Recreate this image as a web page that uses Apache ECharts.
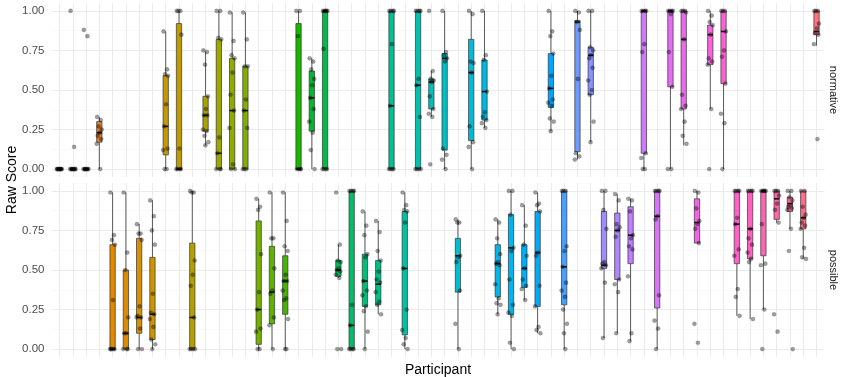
<!DOCTYPE html>
<html>
<head>
<meta charset="utf-8">
<script src="https://cdn.jsdelivr.net/npm/echarts@6/dist/echarts.min.js"></script>
<style>
  html, body { margin: 0; padding: 0; background: #fff; }
  #chart { width: 841px; height: 377px; }
</style>
</head>
<body>
<div id="chart"></div>
<script>
// participants (x axis, no tick labels shown)
const participants = [
  'P01','P02','P03','P04','P05','P06','P07','P08','P09','P10',
  'P11','P12','P13','P14','P15','P16','P17','P18','P19','P20',
  'P21','P22','P23','P24','P25','P26','P27','P28','P29','P30',
  'P31','P32','P33','P34','P35','P36','P37','P38','P39','P40',
  'P41','P42','P43','P44','P45','P46','P47','P48','P49','P50',
  'P51','P52','P53','P54','P55','P56','P57','P58'
];
const yTicks = [0, 0.25, 0.5, 0.75, 1];
const yMinor = [0.125, 0.375, 0.625, 0.875];

// normative facet: participant index, [lower whisker, q1, median, q3, upper whisker], raw scores
const normIdx = [0, 1, 2, 3, 8, 9, 11, 12, 13, 14, 18, 19, 20, 25, 27, 28, 29, 31, 32, 37, 39, 40, 44, 46, 47, 49, 50, 57];
const normStats = [
  [0, 0, 0, 0, 0], [0, 0, 0, 0, 0], [0, 0, 0, 0, 0],
  [0, 0.17, 0.23, 0.30, 0.33],
  [0, 0.09, 0.27, 0.59, 0.87], [0, 0, 0, 0.92, 1],
  [0.15, 0.24, 0.34, 0.46, 0.74], [0, 0, 0.10, 0.82, 1],
  [0, 0, 0.37, 0.70, 0.99], [0, 0, 0.37, 0.65, 0.99],
  [0, 0, 0, 0.92, 1], [0, 0.24, 0.45, 0.62, 0.70], [0, 0, 1, 1, 1],
  [0, 0, 0.40, 1, 1], [0, 0, 0.53, 1, 1],
  [0.33, 0.38, 0.55, 0.57, 0.62], [0, 0.12, 0.70, 0.73, 1],
  [0, 0.18, 0.61, 0.82, 1], [0.26, 0.31, 0.49, 0.69, 1],
  [0.24, 0.39, 0.51, 0.73, 1], [0.06, 0.11, 0.93, 0.94, 1],
  [0.17, 0.47, 0.72, 0.77, 1], [0, 0.10, 1, 1, 1],
  [0, 0.52, 1, 1, 1], [0.15, 0.38, 0.82, 1, 1],
  [0.38, 0.66, 0.85, 0.91, 1], [0, 0.54, 0.87, 1, 1],
  [0.78, 0.85, 0.87, 1, 1]
];
const normPoints = [
  [0, 0, 0, 0, 0, 0, 0, 0, 0, 0],
  [1, 0.14, 0, 0, 0, 0, 0, 0, 0, 0, 0],
  [0.88, 0.84, 0, 0, 0, 0, 0, 0, 0, 0],
  [0.33, 0.31, 0.27, 0.25, 0.23, 0.21, 0.19, 0.16, 0],
  [0.87, 0.63, 0.60, 0.59, 0.41, 0.27, 0.13, 0.12, 0, 0],
  [1, 1, 1, 0.85, 0.13, 0, 0, 0, 0],
  [0.75, 0.74, 0.66, 0.46, 0.38, 0.34, 0.34, 0.25, 0.24, 0.21, 0.17, 0.15],
  [1, 1, 0.83, 0.82, 0.20, 0.10, 0, 0, 0],
  [0.99, 0.81, 0.72, 0.70, 0.61, 0.47, 0.37, 0.26, 0.03, 0, 0],
  [0.99, 0.82, 0.65, 0.65, 0.44, 0.37, 0.26, 0, 0, 0],
  [1, 1, 0.84, 0, 0, 0, 0],
  [0.70, 0.68, 0.63, 0.57, 0.53, 0.45, 0.38, 0.30, 0.23, 0.12, 0],
  [1, 1, 1, 1, 1, 0.76, 0, 0, 0, 0],
  [1, 1, 1, 1, 0.79, 0.40, 0, 0, 0, 0],
  [1, 1, 1, 1, 0.57, 0.53, 0.33, 0, 0, 0, 0],
  [1, 0.62, 0.57, 0.56, 0.55, 0.46, 0.38, 0.35, 0.33, 0.03],
  [1, 0.74, 0.72, 0.70, 0.68, 0.13, 0.09, 0.06, 0],
  [1, 0.98, 0.68, 0.67, 0.61, 0.27, 0.17, 0.14, 0],
  [1, 0.72, 0.69, 0.49, 0.36, 0.33, 0.31, 0.29, 0.26],
  [1, 0.87, 0.84, 0.73, 0.59, 0.51, 0.44, 0.42, 0.40, 0.32, 0.30, 0.24],
  [1, 0.99, 0.93, 0.88, 0.57, 0.10, 0.08, 0.06],
  [1, 1, 0.77, 0.75, 0.72, 0.70, 0.64, 0.56, 0.50, 0.47, 0.30, 0.17],
  [1, 1, 1, 1, 0.79, 0.74, 0.10, 0.07, 0, 0],
  [1, 1, 1, 1, 0.98, 0.74, 0.52, 0, 0],
  [1, 1, 1, 0.99, 0.82, 0.47, 0.40, 0.38, 0.30, 0.21, 0.16],
  [1, 0.97, 0.93, 0.91, 0.85, 0.70, 0.68, 0.66, 0.38, 0],
  [1, 1, 1, 0.87, 0.75, 0.71, 0.54, 0.35, 0.29, 0],
  [1, 1, 1, 0.92, 0.89, 0.86, 0.85, 0.79, 0.19]
];

// possible facet
const possIdx = [4, 5, 6, 7, 10, 15, 16, 17, 21, 22, 23, 24, 26, 30, 33, 34, 35, 36, 38, 41, 42, 43, 45, 48, 51, 52, 53, 54, 55, 56];
const possStats = [
  [0, 0, 0, 0.66, 0.99], [0, 0, 0.10, 0.50, 0.99],
  [0, 0.10, 0.20, 0.70, 0.79], [0, 0.06, 0.22, 0.58, 0.94],
  [0, 0, 0.20, 0.67, 1],
  [0, 0.03, 0.25, 0.81, 0.95], [0, 0.16, 0.36, 0.65, 0.99],
  [0, 0.22, 0.43, 0.59, 0.99],
  [0.45, 0.46, 0.50, 0.56, 0.66], [0, 0, 0.15, 1, 1],
  [0, 0.27, 0.43, 0.60, 0.87], [0.22, 0.28, 0.41, 0.56, 0.81],
  [0, 0.09, 0.51, 0.87, 0.99],
  [0, 0.36, 0.59, 0.70, 0.82],
  [0.22, 0.33, 0.54, 0.66, 0.82], [0, 0.22, 0.64, 0.85, 1],
  [0.31, 0.39, 0.51, 0.66, 0.91], [0.10, 0.27, 0.61, 0.87, 0.99],
  [0, 0.28, 0.52, 1, 1],
  [0.07, 0.51, 0.53, 0.87, 1], [0.10, 0.44, 0.75, 0.86, 0.98],
  [0.05, 0.54, 0.72, 0.90, 0.95],
  [0, 0.26, 0.84, 1, 1],
  [0.67, 0.67, 0.80, 0.95, 1],
  [0.21, 0.54, 0.79, 1, 1], [0.19, 0.57, 0.76, 1, 1],
  [0.25, 0.59, 1, 1, 1], [0.80, 0.82, 0.95, 1, 1],
  [0.76, 0.87, 0.92, 0.96, 1], [0.57, 0.76, 0.83, 1, 1]
];
const possPoints = [
  [0.99, 0.72, 0.69, 0.66, 0.31, 0, 0, 0, 0, 0],
  [0.99, 0.61, 0.50, 0.20, 0.10, 0.10, 0, 0, 0],
  [0.79, 0.73, 0.73, 0.69, 0.27, 0.21, 0.20, 0.20, 0.13, 0, 0],
  [0.94, 0.84, 0.75, 0.66, 0.35, 0.23, 0.22, 0.19, 0.14, 0.06, 0.03, 0],
  [1, 0.99, 0.99, 0.56, 0.47, 0.40, 0.20, 0, 0, 0, 0],
  [0.95, 0.90, 0.88, 0.60, 0.36, 0.25, 0.13, 0.11, 0, 0],
  [0.99, 0.70, 0.70, 0.51, 0.37, 0.35, 0.20, 0.15, 0],
  [0.99, 0.81, 0.65, 0.62, 0.47, 0.43, 0.43, 0.37, 0.32, 0.31, 0.19, 0, 0],
  [0.99, 0.66, 0.56, 0.55, 0.51, 0.50, 0.49, 0.47, 0.45, 0, 0],
  [1, 1, 1, 1, 0.28, 0.15, 0, 0, 0, 0],
  [0.87, 0.78, 0.72, 0.60, 0.58, 0.43, 0.37, 0.34, 0.27, 0.24, 0.11, 0],
  [0.81, 0.74, 0.62, 0.56, 0.49, 0.44, 0.42, 0.36, 0.30, 0.28, 0.22],
  [0.99, 0.91, 0.88, 0.87, 0.80, 0.51, 0.25, 0.12, 0.07, 0.03, 0],
  [0.82, 0.80, 0.80, 0.59, 0.58, 0.55, 0.37, 0.16, 0],
  [0.82, 0.80, 0.70, 0.60, 0.55, 0.54, 0.53, 0.41, 0.32, 0.29, 0.28, 0.22],
  [1, 1, 0.85, 0.64, 0.62, 0.44, 0.28, 0.23, 0.21, 0.04, 0],
  [0.91, 0.78, 0.66, 0.59, 0.51, 0.44, 0.40, 0.38, 0.31],
  [0.99, 0.92, 0.91, 0.87, 0.61, 0.59, 0.40, 0.27, 0.14, 0.12, 0.10],
  [1, 1, 1, 0.65, 0.62, 0.52, 0.42, 0.37, 0.33, 0.25, 0.16, 0.10, 0],
  [1, 1, 0.88, 0.76, 0.55, 0.54, 0.53, 0.51, 0.42, 0.07],
  [0.98, 0.94, 0.79, 0.77, 0.75, 0.71, 0.44, 0.41, 0.36, 0.10],
  [0.95, 0.94, 0.87, 0.72, 0.70, 0.65, 0.63, 0.46, 0.10, 0.05],
  [1, 1, 1, 1, 0.84, 0.82, 0.34, 0.18, 0.13, 0],
  [1, 0.99, 0.89, 0.81, 0.79, 0.76, 0.67, 0.16, 0.04],
  [1, 1, 1, 1, 0.83, 0.79, 0.63, 0.59, 0.38, 0.33, 0.21],
  [1, 1, 1, 1, 0.76, 0.70, 0.66, 0.61, 0.57, 0.55, 0.19],
  [1, 1, 1, 1, 1, 0.79, 0.54, 0.53, 0.25, 0],
  [1, 1, 1, 0.97, 0.92, 0.88, 0.80, 0.22, 0.11],
  [1, 1, 0.96, 0.94, 0.91, 0.90, 0.89, 0.88, 0.76, 0.62, 0],
  [1, 1, 0.90, 0.85, 0.83, 0.80, 0.78, 0.76, 0.64, 0.58, 0.57]
];

// ggplot-like hue palette: hcl(h, c = 100, l = 65)
function hcl(h, c, l) {
  const hr = h * Math.PI / 180;
  const U = c * Math.cos(hr), V = c * Math.sin(hr);
  const Xn = 95.047, Yn = 100, Zn = 108.883;
  const Y = l > 8 ? Yn * Math.pow((l + 16) / 116, 3) : Yn * l / 903.3;
  const t = Xn + 15 * Yn + 3 * Zn;
  const up = U / (13 * l) + 4 * Xn / t;
  const vp = V / (13 * l) + 9 * Yn / t;
  const X = 9 * Y * up / (4 * vp);
  const Z = Y * (12 - 3 * up - 20 * vp) / (4 * vp);
  const x = X / 100, y = Y / 100, z = Z / 100;
  const lin = [
    3.240479 * x - 1.537150 * y - 0.498535 * z,
    -0.969256 * x + 1.875992 * y + 0.041556 * z,
    0.055648 * x - 0.204043 * y + 1.057311 * z
  ];
  return '#' + lin.map(function (v) {
    v = v <= 0.0031308 ? 12.92 * v : 1.055 * Math.pow(v, 1 / 2.4) - 0.055;
    v = Math.max(0, Math.min(1, v));
    return Math.round(v * 255).toString(16).padStart(2, '0');
  }).join('');
}
const palette = participants.map(function (p, i) {
  return hcl(15 + i * 360 / participants.length, 100, 65);
});

// small fixed horizontal spread (px) for overlapping points
const spread = [-2.2, 1.4, -0.6, 2.4, 0.4, -1.6, 1.9, -2.6, 0.9, -1.1, 2.8, -0.2, 1.2];

function boxData(idx, stats) {
  return idx.map(function (p, k) { return [p].concat(stats[k]); });
}
function pointData(idx, pts) {
  const out = [];
  idx.forEach(function (p, k) {
    pts[k].forEach(function (v, j) { out.push([p, v, j]); });
  });
  return out;
}

function renderBox(params, api) {
  const x = api.value(0);
  const lo = api.coord([x, api.value(1)]);
  const q1 = api.coord([x, api.value(2)]);
  const md = api.coord([x, api.value(3)]);
  const q3 = api.coord([x, api.value(4)]);
  const hi = api.coord([x, api.value(5)]);
  const w = api.size([0.4, 0])[0];
  const ls = { stroke: '#333', lineWidth: 0.8 };
  return {
    type: 'group',
    children: [
      { type: 'line', shape: { x1: hi[0], y1: hi[1], x2: q3[0], y2: q3[1] }, style: ls },
      { type: 'line', shape: { x1: q1[0], y1: q1[1], x2: lo[0], y2: lo[1] }, style: ls },
      { type: 'rect', shape: { x: q3[0] - w / 2, y: q3[1], width: w, height: q1[1] - q3[1] },
        style: { fill: palette[x], stroke: '#333', lineWidth: 0.7 } },
      { type: 'line', shape: { x1: md[0] - w / 2, y1: md[1], x2: md[0] + w / 2, y2: md[1] },
        style: { stroke: '#111', lineWidth: 1.6 } }
    ]
  };
}
function renderPoint(params, api) {
  const c = api.coord([api.value(0), api.value(1)]);
  const dx = spread[api.value(2) % spread.length];
  return {
    type: 'circle',
    shape: { cx: c[0] + dx, cy: c[1], r: 2.1 },
    style: { fill: 'rgba(0,0,0,0.38)', stroke: 'rgba(0,0,0,0.2)', lineWidth: 0.6 }
  };
}

const FONT = '"Liberation Sans", Arial, sans-serif';
const xIdx = participants.map(function (p, i) { return i; });

function xAxisFor(g) {
  return {
    gridIndex: g, type: 'value', min: -0.6, max: participants.length - 0.4,
    axisLine: { show: false }, axisTick: { show: false, customValues: xIdx },
    axisLabel: { show: false },
    splitLine: { show: true, lineStyle: { color: '#ebebeb', width: 1 } }
  };
}
function yAxesFor(g) {
  return [
    {
      gridIndex: g, type: 'value', min: -0.05, max: 1.05,
      axisLine: { show: false }, axisTick: { show: false, customValues: yTicks },
      axisLabel: { customValues: yTicks, formatter: function (v) { return v.toFixed(2); },
        color: '#4d4d4d', fontSize: 11.5, fontFamily: FONT, margin: 7 },
      splitLine: { show: true, lineStyle: { color: '#ebebeb', width: 1 } }
    },
    {
      gridIndex: g, type: 'value', min: -0.05, max: 1.05,
      axisLine: { show: false }, axisTick: { show: false, customValues: yMinor },
      axisLabel: { show: false },
      splitLine: { show: true, lineStyle: { color: '#f3f3f3', width: 0.6 } }
    }
  ];
}

const chart = echarts.init(document.getElementById('chart'), null, { renderer: 'canvas' });
chart.setOption({
  animation: false,
  backgroundColor: '#ffffff',
  grid: [
    { left: 51.5, width: 773, top: 3, height: 174 },
    { left: 51.5, width: 773, top: 183, height: 174 }
  ],
  xAxis: [xAxisFor(0), xAxisFor(1)],
  yAxis: yAxesFor(0).concat(yAxesFor(1)),
  series: [
    { type: 'custom', xAxisIndex: 0, yAxisIndex: 0, z: 2, clip: false,
      renderItem: renderBox, data: boxData(normIdx, normStats) },
    { type: 'custom', xAxisIndex: 0, yAxisIndex: 0, z: 3, clip: false,
      renderItem: renderPoint, data: pointData(normIdx, normPoints) },
    { type: 'custom', xAxisIndex: 1, yAxisIndex: 2, z: 2, clip: false,
      renderItem: renderBox, data: boxData(possIdx, possStats) },
    { type: 'custom', xAxisIndex: 1, yAxisIndex: 2, z: 3, clip: false,
      renderItem: renderPoint, data: pointData(possIdx, possPoints) }
  ],
  graphic: [
    { type: 'text', x: 12, y: 180, rotation: Math.PI / 2,
      style: { text: 'Raw Score', fontSize: 14, fontFamily: FONT, fill: '#000',
        align: 'center', verticalAlign: 'middle' } },
    { type: 'text', x: 438, y: 370,
      style: { text: 'Participant', fontSize: 14, fontFamily: FONT, fill: '#000',
        align: 'center', verticalAlign: 'middle' } },
    { type: 'text', x: 833, y: 90, rotation: -Math.PI / 2,
      style: { text: 'normative', fontSize: 11, fontFamily: FONT, fill: '#1a1a1a',
        align: 'center', verticalAlign: 'middle' } },
    { type: 'text', x: 833, y: 270, rotation: -Math.PI / 2,
      style: { text: 'possible', fontSize: 11, fontFamily: FONT, fill: '#1a1a1a',
        align: 'center', verticalAlign: 'middle' } }
  ]
});
</script>
</body>
</html>
